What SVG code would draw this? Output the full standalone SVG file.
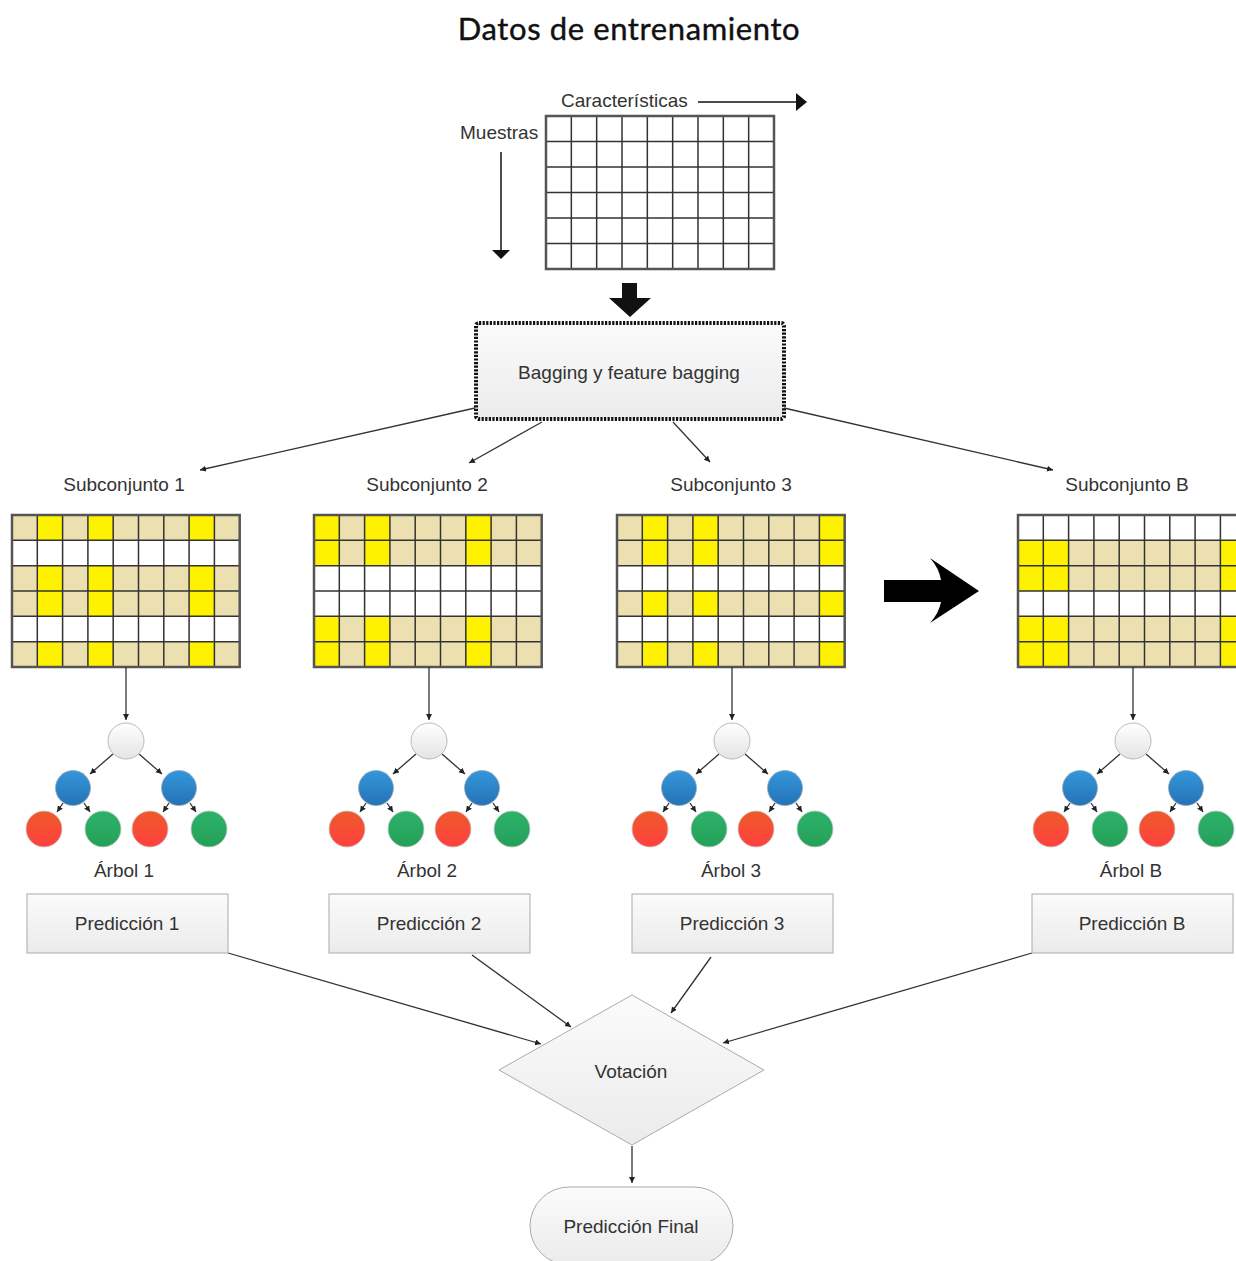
<svg xmlns="http://www.w3.org/2000/svg" xmlns:xlink="http://www.w3.org/1999/xlink" width="1236" height="1261" viewBox="0 0 1236 1261">
<style>
  .t { font-family: "Liberation Sans", Arial, sans-serif; font-size: 19px; fill: #333; }
  .title { font-family: Lato, "Liberation Sans", sans-serif; font-size: 31px; font-weight: 400; letter-spacing: 0.6px; fill: #111; stroke: #111; stroke-width: 0.4; }
  .conn { stroke: #333; stroke-width: 1.3; fill: none; marker-end: url(#ah); }
  .beige { fill: #ede0b0; }
  .yel { fill: #fff200; }
  .box { fill: url(#gbox); stroke: #aaa; stroke-width: 1; }
  .gl { fill: none; stroke: #333; stroke-width: 1.5; }
  .go { fill: none; stroke: #555; stroke-width: 2.5; }
</style>
<defs>
  <marker id="ah" markerUnits="userSpaceOnUse" markerWidth="7" markerHeight="7" refX="6" refY="3" orient="auto">
    <path d="M0,0 L6,3 L0,6 z" fill="#222"/>
  </marker>
  <linearGradient id="gbox" x1="0" y1="0" x2="0" y2="1">
    <stop offset="0" stop-color="#fbfbfb"/><stop offset="1" stop-color="#ebebeb"/>
  </linearGradient>
  <linearGradient id="gw" x1="0" y1="0" x2="0" y2="1">
    <stop offset="0" stop-color="#ffffff"/><stop offset="1" stop-color="#e4e4e4"/>
  </linearGradient>
  <linearGradient id="gb" x1="0" y1="0" x2="0" y2="1">
    <stop offset="0" stop-color="#3596dc"/><stop offset="1" stop-color="#2473b5"/>
  </linearGradient>
  <linearGradient id="gr" x1="0" y1="0" x2="0" y2="1">
    <stop offset="0" stop-color="#ee5a2a"/><stop offset="1" stop-color="#ff4040"/>
  </linearGradient>
  <linearGradient id="gg" x1="0" y1="0" x2="0" y2="1">
    <stop offset="0" stop-color="#2db26a"/><stop offset="1" stop-color="#24a058"/>
  </linearGradient>
  <g id="gridlines">
    <path class="gl" d="M25.3 0V152M50.6 0V152M75.9 0V152M101.2 0V152M126.5 0V152M151.8 0V152M177.1 0V152M202.4 0V152M0 25.33H227.7M0 50.67H227.7M0 76H227.7M0 101.33H227.7M0 126.67H227.7"/>
    <rect class="go" x="0" y="0" width="227.7" height="152"/>
  </g>
  <g id="tree">
    <path class="conn" d="M0 667V720"/>
    <path class="conn" d="M-13 754L-36 774"/>
    <path class="conn" d="M13 754L36 774"/>
    <path class="conn" d="M-63 803L-69 812"/>
    <path class="conn" d="M-42 803L-36 812"/>
    <path class="conn" d="M43 803L37 812"/>
    <path class="conn" d="M64 803L70 812"/>
    <circle cx="0" cy="741" r="18" fill="url(#gw)" stroke="#bbb" stroke-width="1"/>
    <circle cx="-53" cy="788" r="17.5" fill="url(#gb)" stroke="#9ab" stroke-width="0.8"/>
    <circle cx="53" cy="788" r="17.5" fill="url(#gb)" stroke="#9ab" stroke-width="0.8"/>
    <circle cx="-82" cy="829" r="18" fill="url(#gr)" stroke="#ccc" stroke-width="0.8"/>
    <circle cx="-23" cy="829" r="18" fill="url(#gg)" stroke="#ccc" stroke-width="0.8"/>
    <circle cx="24" cy="829" r="18" fill="url(#gr)" stroke="#ccc" stroke-width="0.8"/>
    <circle cx="83" cy="829" r="18" fill="url(#gg)" stroke="#ccc" stroke-width="0.8"/>
  </g>
</defs>
<rect width="1236" height="1261" fill="#fff"/>

<text class="title" x="629" y="40" text-anchor="middle">Datos de entrenamiento</text>

<g id="training-data">
  <text class="t" x="561" y="107">Características</text>
  <text class="t" x="460" y="139">Muestras</text>
  <path d="M698 102H797" stroke="#111" stroke-width="1.5"/>
  <polygon points="796,93 807,102 796,111" fill="#111"/>
  <path d="M501 152V251" stroke="#111" stroke-width="1.5"/>
  <polygon points="492,250 510,250 501,259" fill="#111"/>
  <g transform="translate(546,116) scale(1.0013,1.0066)">
    <rect width="227.7" height="152" fill="#fff"/>
    <use xlink:href="#gridlines"/>
  </g>
  <path d="M622 283H637V298H651L630 317L609 298H622Z" fill="#111"/>
</g>

<g id="bagging">
  <rect x="476" y="323" width="308" height="96" rx="3" fill="url(#gbox)" stroke="#111" stroke-width="4" stroke-dasharray="2.2 1.4"/>
  <text class="t" x="629" y="379" text-anchor="middle">Bagging y feature bagging</text>
</g>

<g id="connectors">
  <path class="conn" d="M475 408L200 470"/>
  <path class="conn" d="M542 422L469 463"/>
  <path class="conn" d="M673 422L710 462"/>
  <path class="conn" d="M784 408L1053 470"/>
  <path class="conn" d="M228 953L541 1044"/>
  <path class="conn" d="M472 955L571 1027"/>
  <path class="conn" d="M711 957L671 1013"/>
  <path class="conn" d="M1032 953L723 1043"/>
  <path class="conn" d="M632 1146V1183"/>
</g>

<g id="subset-1">
  <text class="t" x="124" y="491" text-anchor="middle">Subconjunto 1</text>
  <g transform="translate(12,515)">
    <rect width="227.7" height="152" fill="#fff"/>
    <rect class="beige" y="0" width="227.7" height="25.33"/>
    <rect class="beige" y="50.67" width="227.7" height="50.67"/>
    <rect class="beige" y="126.67" width="227.7" height="25.33"/>
    <g class="yel">
      <rect x="25.3" y="0" width="25.3" height="25.33"/><rect x="75.9" y="0" width="25.3" height="25.33"/><rect x="177.1" y="0" width="25.3" height="25.33"/>
      <rect x="25.3" y="50.67" width="25.3" height="50.67"/><rect x="75.9" y="50.67" width="25.3" height="50.67"/><rect x="177.1" y="50.67" width="25.3" height="50.67"/>
      <rect x="25.3" y="126.67" width="25.3" height="25.33"/><rect x="75.9" y="126.67" width="25.3" height="25.33"/><rect x="177.1" y="126.67" width="25.3" height="25.33"/>
    </g>
    <use xlink:href="#gridlines"/>
  </g>
</g>

<g id="subset-2">
  <text class="t" x="427" y="491" text-anchor="middle">Subconjunto 2</text>
  <g transform="translate(314,515)">
    <rect width="227.7" height="152" fill="#fff"/>
    <rect class="beige" y="0" width="227.7" height="50.67"/>
    <rect class="beige" y="101.33" width="227.7" height="50.67"/>
    <g class="yel">
      <rect x="0" y="0" width="25.3" height="50.67"/><rect x="50.6" y="0" width="25.3" height="50.67"/><rect x="151.8" y="0" width="25.3" height="50.67"/>
      <rect x="0" y="101.33" width="25.3" height="50.67"/><rect x="50.6" y="101.33" width="25.3" height="50.67"/><rect x="151.8" y="101.33" width="25.3" height="50.67"/>
    </g>
    <use xlink:href="#gridlines"/>
  </g>
</g>

<g id="subset-3">
  <text class="t" x="731" y="491" text-anchor="middle">Subconjunto 3</text>
  <g transform="translate(617,515)">
    <rect width="227.7" height="152" fill="#fff"/>
    <rect class="beige" y="0" width="227.7" height="50.67"/>
    <rect class="beige" y="76" width="227.7" height="25.33"/>
    <rect class="beige" y="126.67" width="227.7" height="25.33"/>
    <g class="yel">
      <rect x="25.3" y="0" width="25.3" height="50.67"/><rect x="75.9" y="0" width="25.3" height="50.67"/><rect x="202.4" y="0" width="25.3" height="50.67"/>
      <rect x="25.3" y="76" width="25.3" height="25.33"/><rect x="75.9" y="76" width="25.3" height="25.33"/><rect x="202.4" y="76" width="25.3" height="25.33"/>
      <rect x="25.3" y="126.67" width="25.3" height="25.33"/><rect x="75.9" y="126.67" width="25.3" height="25.33"/><rect x="202.4" y="126.67" width="25.3" height="25.33"/>
    </g>
    <use xlink:href="#gridlines"/>
  </g>
</g>

<g id="subset-b">
  <text class="t" x="1127" y="491" text-anchor="middle">Subconjunto B</text>
  <g transform="translate(1018,515)">
    <rect width="227.7" height="152" fill="#fff"/>
    <rect class="beige" y="25.33" width="227.7" height="50.67"/>
    <rect class="beige" y="101.33" width="227.7" height="50.67"/>
    <g class="yel">
      <rect x="0" y="25.33" width="50.6" height="50.67"/><rect x="202.4" y="25.33" width="25.3" height="50.67"/>
      <rect x="0" y="101.33" width="50.6" height="50.67"/><rect x="202.4" y="101.33" width="25.3" height="50.67"/>
    </g>
    <use xlink:href="#gridlines"/>
  </g>
</g>

<g id="big-arrow">
  <path d="M884 580H941Q939 568 930 558L979 591L930 623Q939 613 941 602H884Z" fill="#000"/>
</g>

<g id="tree-1"><use xlink:href="#tree" transform="translate(126,0)"/><text class="t" x="124" y="877" text-anchor="middle">Árbol 1</text></g>
<g id="tree-2"><use xlink:href="#tree" transform="translate(429,0)"/><text class="t" x="427" y="877" text-anchor="middle">Árbol 2</text></g>
<g id="tree-3"><use xlink:href="#tree" transform="translate(732,0)"/><text class="t" x="731" y="877" text-anchor="middle">Árbol 3</text></g>
<g id="tree-b"><use xlink:href="#tree" transform="translate(1133,0)"/><text class="t" x="1131" y="877" text-anchor="middle">Árbol B</text></g>

<g id="pred-1"><rect class="box" x="27" y="894" width="201" height="59"/><text class="t" x="127" y="930" text-anchor="middle">Predicción 1</text></g>
<g id="pred-2"><rect class="box" x="329" y="894" width="201" height="59"/><text class="t" x="429" y="930" text-anchor="middle">Predicción 2</text></g>
<g id="pred-3"><rect class="box" x="632" y="894" width="201" height="59"/><text class="t" x="732" y="930" text-anchor="middle">Predicción 3</text></g>
<g id="pred-b"><rect class="box" x="1032" y="894" width="201" height="59"/><text class="t" x="1132" y="930" text-anchor="middle">Predicción B</text></g>

<g id="votacion">
  <polygon class="box" points="632,995 764,1070 632,1145 499,1070"/>
  <text class="t" x="631" y="1078" text-anchor="middle">Votación</text>
</g>

<g id="final">
  <rect class="box" x="530" y="1187" width="203" height="78" rx="39"/>
  <text class="t" x="631" y="1233" text-anchor="middle">Predicción Final</text>
</g>
</svg>
